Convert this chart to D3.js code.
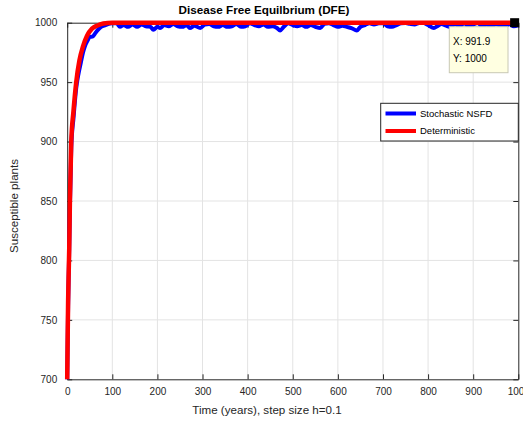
<!DOCTYPE html>
<html><head><meta charset="utf-8">
<script src="https://cdn.jsdelivr.net/npm/d3@7"></script>
<style>body{margin:0;background:#fff}svg{display:block}text{font-family:"Liberation Sans",Arial,sans-serif}</style>
</head><body><div id="c"></div>
<script>
// ---- data ----
const xTicks = [0,100,200,300,400,500,600,700,800,900,1000];
const yTicks = [700,750,800,850,900,950,1000];
const detT = [0,1,2,3,4.5,6,9,14,20,27,35,44,55,66,80,100,1000];
const detS = [700,735,765,785,810,850,900,926,950,968,980,989,995,997.5,999.3,1000,1000];
const stochT = [0,2,4,6,9,14,20,25,30,35,39,45,50,57,62,68,75,85,95,
 100,105,110,117,125,135,145,155,165,175,185,191,200,206,215,225,235,245,255,265,272,282,295,305,315,325,335,345,355,365,375,385,395,405,415,425,435,445,455,465,472,480,490,500,510,520,530,540,550,561,570,580,590,600,610,620,630,642,650,660,670,680,690,700,710,720,730,740,750,760,770,780,790,800,813,820,830,840,850,860,870,880,890,900,910,920,930,940,950,960,970,980,990,1000];
const stochS = [700,762,800,845,895,920,945,957,966,975,980,985,988,988.5,991,994,996.5,998,999.3,
 999.5,999.6,999.4,996.5,998,996.5,998.5,996.5,998.5,997,996.5,994,996.5,995.5,998,997,999,997,996.5,998,995.5,997.5,995.5,998.5,999,997,996.5,998,996.5,997,999,996.5,997,999.5,998,997,998.5,996.5,997,995.5,993.5,996.5,999.5,998,997,998,996.5,998,996.5,995.5,999,999.5,998,996.5,997.5,996.5,995.5,993.5,996.5,998,999.5,998.5,999.5,999.8,997,996.5,998,999.5,999.8,999,998.5,999.7,999.8,998,995.5,997,999,997.5,996.5,999,997,999.5,997,998.5,999.8,997,998.5,996.5,999,997.5,996.5,999,997,998];
const seriesNames = ["Stochastic NSFD","Deterministic"];
const seriesColors = ["#0000ff","#ff0000"];
const tipX = 991.9, tipY = 1000;

// ---- layout ----
const W=523,H=425;
const L=67.2,R=518.3,T=22.7,B=379.3;
const svg=d3.select("#c").append("svg").attr("width",W).attr("height",H);
const x=d3.scaleLinear().domain([0,1000]).range([L,R]);
const y=d3.scaleLinear().domain([700,1000]).range([B,T]);
const axc="#262626";

// grid
svg.append("g").selectAll("line").data(xTicks.slice(1,-1)).join("line")
 .attr("x1",d=>x(d)).attr("x2",d=>x(d)).attr("y1",T).attr("y2",B)
 .attr("stroke","#e3e3e3").attr("stroke-width",1);
svg.append("g").selectAll("line").data(yTicks.slice(1,-1)).join("line")
 .attr("y1",d=>y(d)).attr("y2",d=>y(d)).attr("x1",L).attr("x2",R)
 .attr("stroke","#e3e3e3").attr("stroke-width",1);

// axes
const fmt=d3.format("d");
const gx=svg.append("g").attr("transform",`translate(0,${B})`)
 .call(d3.axisBottom(x).tickValues(xTicks).tickFormat(fmt).tickSizeInner(-5).tickSizeOuter(0).tickPadding(9));
const gy=svg.append("g").attr("transform",`translate(${L},0)`)
 .call(d3.axisLeft(y).tickValues(yTicks).tickFormat(fmt).tickSizeInner(-5).tickSizeOuter(0).tickPadding(10));
const gt=svg.append("g").attr("transform",`translate(0,${T})`)
 .call(d3.axisTop(x).tickValues(xTicks).tickFormat("").tickSizeInner(-5).tickSizeOuter(0));
const gr=svg.append("g").attr("transform",`translate(${R},0)`)
 .call(d3.axisRight(y).tickValues(yTicks).tickFormat("").tickSizeInner(-5).tickSizeOuter(0));
[gx,gy,gt,gr].forEach(g=>{
 g.select(".domain").attr("stroke",axc);
 g.selectAll(".tick line").attr("stroke",axc);
 g.selectAll("text").attr("fill",axc).attr("font-size",10).attr("font-family","Liberation Sans, Arial, sans-serif");
});

// series
const line=d3.line().x(d=>x(d[0])).y(d=>y(d[1])).curve(d3.curveMonotoneX);
svg.append("path").datum(stochT.map((t,i)=>[t,stochS[i]])).attr("d",line)
 .attr("fill","none").attr("stroke",seriesColors[0]).attr("stroke-width",4).attr("stroke-linejoin","round");
svg.append("path").datum(detT.map((t,i)=>[t,detS[i]])).attr("d",line)
 .attr("fill","none").attr("stroke",seriesColors[1]).attr("stroke-width",4.5).attr("stroke-linejoin","round");

// title & labels
const cx=264;
svg.append("text").attr("x",cx).attr("y",14).attr("text-anchor","middle")
 .attr("font-size",11.7).attr("font-weight","bold").attr("fill","#000").text("Disease Free Equilbrium (DFE)");
svg.append("text").attr("x",267).attr("y",414).attr("text-anchor","middle")
 .attr("font-size",11.6).attr("fill",axc).text("Time (years), step size h=0.1");
svg.append("text").attr("transform",`translate(18,206) rotate(-90)`).attr("text-anchor","middle")
 .attr("font-size",11.6).attr("fill",axc).text("Susceptible plants");

// legend
const lg=svg.append("g");
lg.append("rect").attr("x",380.7).attr("y",103.3).attr("width",R-380.7).attr("height",37.7)
 .attr("fill","#fff").attr("stroke",axc).attr("stroke-width",1);
seriesNames.forEach((n,i)=>{
 const yy=113.5+i*17.5;
 lg.append("line").attr("x1",385.5).attr("x2",416).attr("y1",yy).attr("y2",yy)
  .attr("stroke",seriesColors[i]).attr("stroke-width",4);
 lg.append("text").attr("x",420).attr("y",yy+3).attr("font-size",9.5).attr("fill","#000").text(n);
});

// datatip
svg.append("rect").attr("x",x(tipX)-4.5).attr("y",y(tipY)-4.5).attr("width",9).attr("height",9).attr("fill","#000");
const tg=svg.append("g");
tg.append("rect").attr("x",449.3).attr("y",26.7).attr("width",58.7).attr("height",46)
 .attr("fill","#ffffe1").attr("stroke","#c8c8b4").attr("stroke-width",1);
tg.append("text").attr("x",453).attr("y",45).attr("font-size",10).attr("fill","#000").text("X: "+tipX);
tg.append("text").attr("x",453).attr("y",62).attr("font-size",10).attr("fill","#000").text("Y: "+tipY);
</script></body></html>
